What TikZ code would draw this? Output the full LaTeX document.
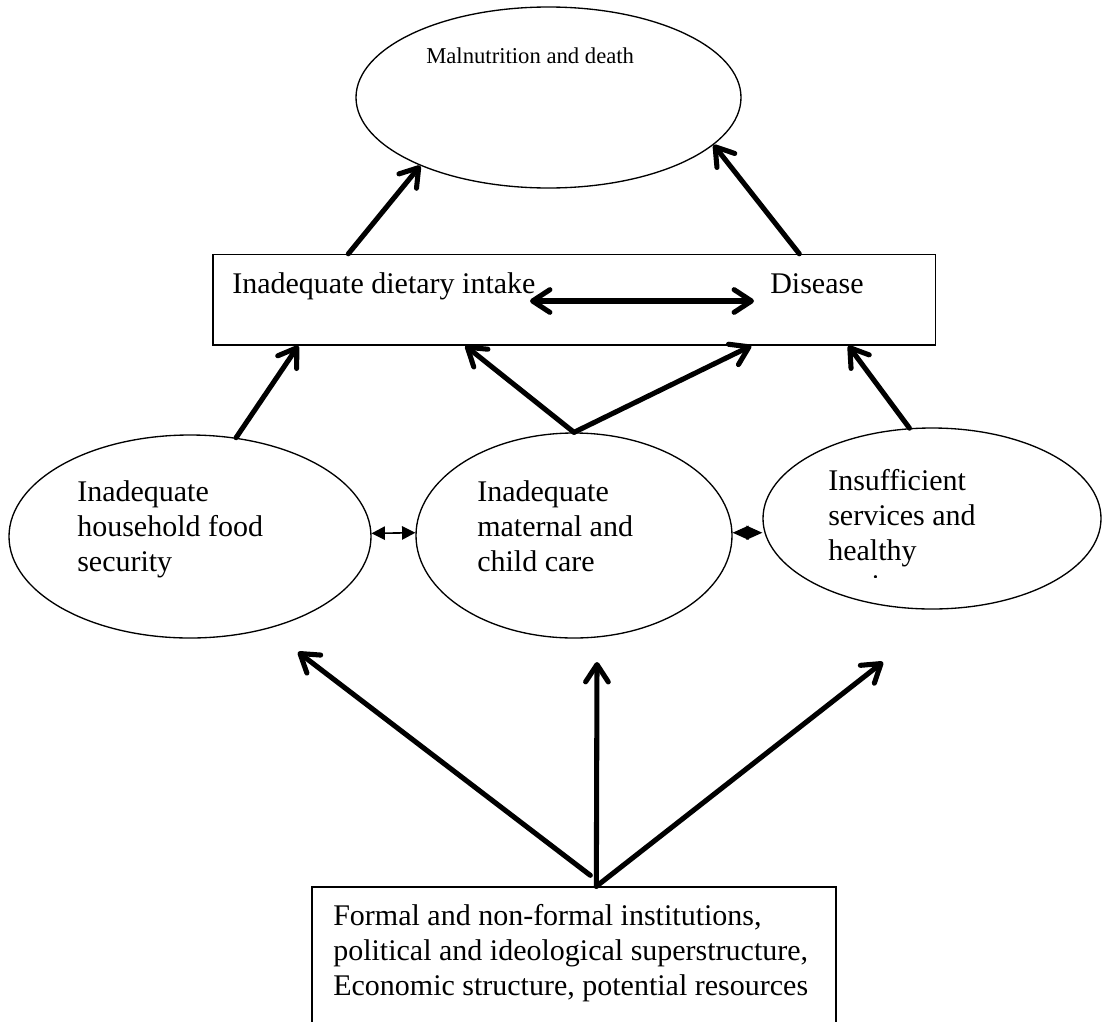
\documentclass[tikz,border=0pt]{standalone}
\usepackage{fontspec}
\setmainfont{Liberation Serif}
\usetikzlibrary{arrows.meta,shapes.geometric,calc}
\begin{document}
\begin{tikzpicture}[x=0.75pt,y=-0.75pt,
  shapeline/.style={draw=black,line width=1pt},
  oval/.style={shapeline,ellipse,inner sep=0pt},
  panel/.style={shapeline,rectangle,inner sep=0pt},
  lbl/.style={anchor=base west,inner sep=0pt,font=\fontsize{22.5pt}{26.25pt}\selectfont},
  smalllbl/.style={anchor=base west,inner sep=0pt,font=\fontsize{17pt}{20pt}\selectfont},
  bigarrow/.style={line width=3.8pt,line cap=round,-{Straight Barb[length=13pt,width=17pt,round]}},
  bigdouble/.style={line width=3.8pt,line cap=round,{Straight Barb[length=13pt,width=17pt,round]}-{Straight Barb[length=13pt,width=17pt,round]}},
  thindouble/.style={line width=1.2pt,{Triangle[length=10pt,width=10pt]}-{Triangle[length=10pt,width=10pt]}},
  diamondlink/.style={line width=1pt,{Triangle[length=12pt,width=10.5pt]}-{Triangle[length=12pt,width=10.5pt]}}
]
\useasboundingbox (0,0) rectangle (1102,1021);

% shapes
\node[oval,minimum width=288.75pt,minimum height=135.75pt] (ellT) at (548.5,97.5) {};
\node[panel,minimum width=541.9pt,minimum height=67.9pt] (box) at (574.25,299.75) {};
\node[oval,minimum width=271.5pt,minimum height=152.25pt] (ellL) at (190,536.5) {};
\node[oval,minimum width=237pt,minimum height=153.75pt] (ellM) at (574,535.5) {};
\node[oval,minimum width=253.5pt,minimum height=135.75pt] (ellR) at (932,518.5) {};
\node[panel,minimum width=393pt,minimum height=114.75pt] (boxB) at (574,963.5) {};

% texts
\node[smalllbl] (tTop) at (426,63) {Malnutrition and death};
\node[lbl] (tDiet) at (232,293) {Inadequate dietary intake};
\node[lbl] (tDis) at (770,293) {Disease};
\node[lbl] (tL1) at (77,501) {Inadequate};
\node[lbl] (tL2) at (77,536) {household food};
\node[lbl] (tL3) at (77,571) {security};
\node[lbl] (tM1) at (477,501) {Inadequate};
\node[lbl] (tM2) at (477,536) {maternal and};
\node[lbl] (tM3) at (477,571) {child care};
\node[lbl] (tR1) at (828,490) {Insufficient};
\node[lbl] (tR2) at (828,525) {services and};
\node[lbl] (tR3) at (828,560) {healthy};
\begin{scope}
  \clip (800,565) rectangle (1000,577.5);
  \node[lbl] (tR4) at (828,595) {environment};
\end{scope}
\node[lbl] (tB1) at (333,925) {Formal and non-formal institutions,};
\node[lbl] (tB2) at (333,960) {political and ideological superstructure,};
\node[lbl] (tB3) at (333,995) {Economic structure, potential resources};

% connectors
\draw[bigarrow] ($(box.north west)+(136,0)$) -- (ellT.208);
\draw[bigarrow] ($(box.north west)+(587,0)$) -- (ellT.344);
\draw[bigarrow] (ellL.65) -- ($(box.south west)+(86,0)$);
\draw[bigarrow] (ellM.north) -- ($(box.south west)+(253,0)$);
\draw[bigarrow] (ellM.north) -- ($(box.south west)+(539,0)$);
\draw[bigarrow] (ellR.104) -- ($(box.south west)+(636,0)$);

\coordinate (dl) at (530,301);
\coordinate (dr) at (754,301);
\draw[bigdouble] (dl) -- (dr);

\draw[thindouble] (ellL.1) -- (ellM.179);
\draw[diamondlink] (ellM.1) -- (ellM.1 -| ellR.west);

\coordinate (src) at ($(boxB.north west)+(285,0)$);
\coordinate (tipL) at (298,652);
\coordinate (tipM) at (597,662);
\coordinate (tipR) at (883,662);
\draw[bigarrow] ($(src)+(-6,-11)$) -- (tipL);
\draw[bigarrow] (src) -- (tipM);
\draw[bigarrow] (src) -- (tipR);
\end{tikzpicture}
\end{document}
